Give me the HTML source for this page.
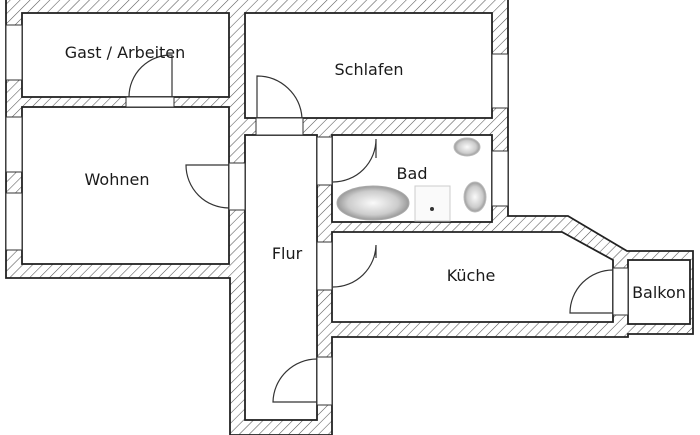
<!DOCTYPE html>
<html><head><meta charset="utf-8"><style>
html,body{margin:0;padding:0;background:#fff;width:700px;height:435px;overflow:hidden}
text{font-family:"DejaVu Sans","Liberation Sans",sans-serif;font-size:16px;fill:#1a1a1a}
</style></head><body>
<svg width="700" height="435" viewBox="0 0 700 435" xmlns="http://www.w3.org/2000/svg">
<defs>
<pattern id="h" patternUnits="userSpaceOnUse" width="7" height="7" patternTransform="rotate(45)">
<rect width="7" height="7" fill="#fff"/><line x1="0" y1="0" x2="0" y2="7" stroke="#555" stroke-width="1.1"/>
</pattern>
<radialGradient id="g" cx="50%" cy="50%" r="50%"><stop offset="0" stop-color="#fafafa"/><stop offset="0.7" stop-color="#ccc"/><stop offset="1" stop-color="#999"/></radialGradient>
</defs>
<g stroke="#222" stroke-width="1.8">
<path d="M6,-2 H508 V216 H568 L627,251 H693 V334 H628 V337 H332 V435 H230 V278 H6 Z" fill="url(#h)"/>
<rect x="22" y="13" width="207" height="84" fill="#fff"/>
<rect x="22" y="107" width="207" height="157" fill="#fff"/>
<rect x="245" y="13" width="247" height="105" fill="#fff"/>
<rect x="245" y="135" width="72" height="285" fill="#fff"/>
<rect x="332" y="135" width="160" height="87" fill="#fff"/>
<path d="M332,232 H562 L613,260 V322 H332 Z" fill="#fff"/>
<rect x="628" y="260" width="62" height="64" fill="#fff"/>
</g>
<g fill="#fff" stroke="#333" stroke-width="1">
<rect x="6" y="25" width="16" height="55"/>
<rect x="6" y="117" width="16" height="55"/>
<rect x="6" y="193" width="16" height="57"/>
<rect x="492" y="54" width="16" height="54"/>
<rect x="492" y="151" width="16" height="55"/>
<rect x="126" y="97" width="48" height="10"/>
<rect x="256" y="118" width="47" height="17"/>
<rect x="229" y="163" width="16" height="47"/>
<rect x="317" y="137" width="15" height="48"/>
<rect x="317" y="242" width="15" height="48"/>
<rect x="317" y="357" width="15" height="48"/>
<rect x="613" y="268" width="15" height="47"/>
</g>
<g fill="none" stroke="#333" stroke-width="1.2">
<path d="M172,97 V55 A42,42 0 0 0 129,97"/>
<path d="M257,118 V76 A45,45 0 0 1 302,118"/>
<path d="M229,165 H186 A43,43 0 0 0 229,208"/>
<path d="M333,182 A43,43 0 0 0 376,139 V158"/>
<path d="M333,287 A43,43 0 0 0 376,245 V258"/>
<path d="M317,402 H273 A44,44 0 0 1 317,359"/>
<path d="M613,313 H570 A43,43 0 0 1 613,270"/>
</g>
<ellipse cx="373" cy="203" rx="36" ry="17" fill="url(#g)" stroke="#aaa"/>
<rect x="415" y="186" width="35" height="35" fill="#fafafa" stroke="#ccc"/>
<circle cx="432" cy="209" r="2" fill="#333"/>
<ellipse cx="475" cy="197" rx="11" ry="15" fill="url(#g)" stroke="#bbb"/>
<ellipse cx="467" cy="147" rx="13" ry="9" fill="url(#g)" stroke="#bbb"/>
<text x="125" y="58" text-anchor="middle">Gast / Arbeiten</text>
<text x="369" y="75" text-anchor="middle">Schlafen</text>
<text x="117" y="185" text-anchor="middle">Wohnen</text>
<text x="412" y="179" text-anchor="middle">Bad</text>
<text x="287" y="259" text-anchor="middle">Flur</text>
<text x="471" y="281" text-anchor="middle">Küche</text>
<text x="659" y="298" text-anchor="middle">Balkon</text>
</svg>
</body></html>
